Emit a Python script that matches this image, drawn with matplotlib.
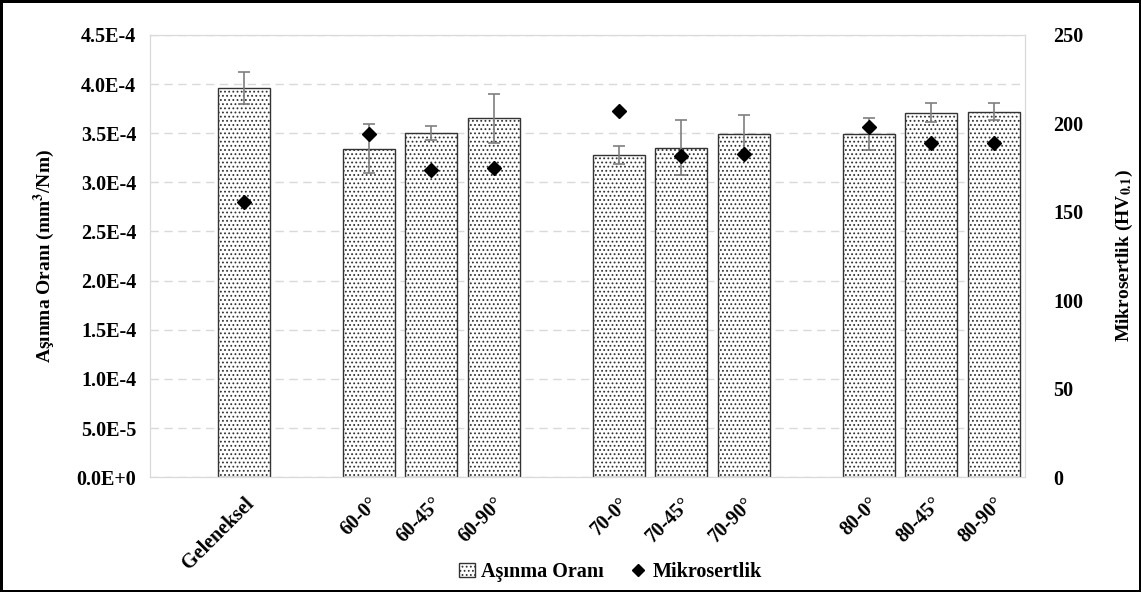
import matplotlib.pyplot as plt
from matplotlib.lines import Line2D
from matplotlib.patches import Patch
from matplotlib.ticker import FuncFormatter

plt.rcParams['font.family'] = ['Liberation Serif', 'DejaVu Serif']
plt.rcParams['font.weight'] = 'bold'
plt.rcParams['mathtext.fontset'] = 'stix'
plt.rcParams['hatch.color'] = '#333333'
plt.rcParams['hatch.linewidth'] = 0.8

categories = ['', 'Geleneksel', '', '60-0°', '60-45°', '60-90°', '',
              '70-0°', '70-45°', '70-90°', '', '80-0°', '80-45°', '80-90°']
wear = [None, 3.96e-4, None, 3.34e-4, 3.50e-4, 3.65e-4, None,
        3.28e-4, 3.35e-4, 3.49e-4, None, 3.49e-4, 3.71e-4, 3.72e-4]
wear_err = [None, 1.6e-5, None, 2.5e-5, 7e-6, 2.5e-5, None,
            9e-6, 2.8e-5, 2.0e-5, None, 1.6e-5, 1.0e-5, 9e-6]
hardness = [None, 155.5, None, 194, 173.5, 174.5, None,
            207, 181.5, 182.5, None, 198, 189, 189]

fig = plt.figure(figsize=(11.41, 5.92), dpi=100)
fig.patch.set_edgecolor('black')
fig.patch.set_linewidth(2.5)
ax = fig.add_axes([0.1315, 0.194, 0.767, 0.747])
ax2 = ax.twinx()

xs = [i for i, v in enumerate(wear) if v is not None]
ax.bar(xs, [wear[i] for i in xs], width=0.83, color='white', edgecolor='#333333',
       hatch='....', linewidth=1.0, zorder=2)
ax.errorbar(xs, [wear[i] for i in xs], yerr=[wear_err[i] for i in xs], fmt='none',
            ecolor='#7f7f7f', elinewidth=1.2, capsize=4, capthick=1.2, zorder=3)
ax2.plot(xs, [hardness[i] for i in xs], linestyle='none', marker='D', markersize=7,
         color='black', zorder=4)

ax.set_xlim(-0.5, len(categories) - 0.5)
ax.set_ylim(0, 4.5e-4)
ax.set_yticks([i * 5e-5 for i in range(10)])
ax.yaxis.set_major_formatter(FuncFormatter(
    lambda v, p: '0.0E+0' if v == 0 else '{:.1E}'.format(v).replace('E-0', 'E-')))
ax2.set_ylim(0, 250)
ax2.set_yticks(range(0, 251, 50))
ax.grid(axis='y', color='#d9d9d9', linestyle=(0, (6, 4)), linewidth=1.0, zorder=0)
ax.set_axisbelow(True)

shown = [i for i, c in enumerate(categories) if c]
ax.set_xticks(shown)
ax.set_xticklabels([categories[i] for i in shown], rotation=45, ha='right',
                   rotation_mode='anchor', fontsize=14.5, fontweight='bold')
ax.tick_params(axis='y', length=0, labelsize=14.5, pad=10)
ax.tick_params(axis='x', length=0, pad=12)
ax2.tick_params(axis='y', length=0, labelsize=14.5, pad=20)
for a in (ax, ax2):
    for s in a.spines.values():
        s.set_color('#d9d9d9')

ax.set_ylabel('Aşınma Oranı (mm$^\\mathbf{3}$/Nm)', fontsize=14, fontweight='bold', labelpad=14)
ax2.set_ylabel('Mikrosertlik (HV$_{\\mathbf{0.1}}$)', fontsize=14, fontweight='bold', labelpad=22)

handles = [Patch(facecolor='white', edgecolor='#333333', hatch='....', label='Aşınma Oranı'),
           Line2D([], [], linestyle='none', marker='D', markersize=6, color='black',
                  label='Mikrosertlik')]
fig.legend(handles=handles, loc='center', bbox_to_anchor=(0.535, 0.034), ncol=2,
           frameon=False, prop={'size': 14.5, 'weight': 'bold'}, handlelength=0.8,
           handletextpad=0.3, columnspacing=1.3)

fig.savefig('out.png', dpi=100, edgecolor=fig.get_edgecolor())
